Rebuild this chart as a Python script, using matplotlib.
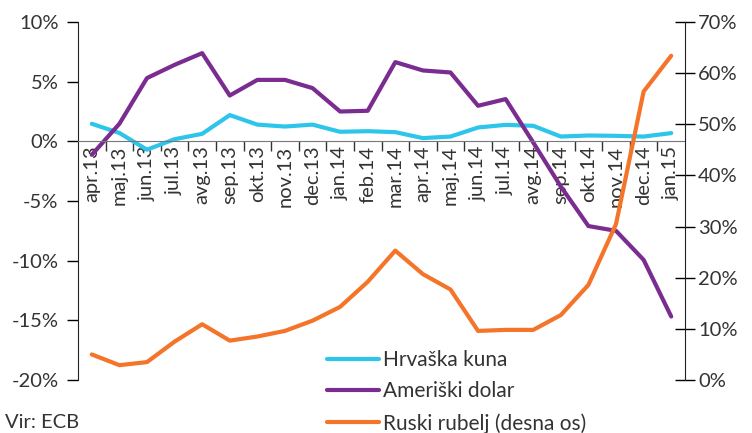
from matplotlib import pyplot as plt
import numpy as np

plt.rcParams['font.family'] = ['Lato', 'DejaVu Sans']

months = ["apr.13", "maj.13", "jun.13", "jul.13", "avg.13", "sep.13", "okt.13",
          "nov.13", "dec.13", "jan.14", "feb.14", "mar.14", "apr.14", "maj.14",
          "jun.14", "jul.14", "avg.14", "sep.14", "okt.14", "nov.14", "dec.14",
          "jan.15"]
kuna = [1.47, 0.7, -0.7, 0.18, 0.63, 2.2, 1.4, 1.24, 1.4, 0.8, 0.85, 0.77,
        0.27, 0.4, 1.16, 1.38, 1.3, 0.4, 0.49, 0.46, 0.4, 0.69]
dolar = [-1.13, 1.47, 5.3, 6.41, 7.39, 3.84, 5.15, 5.15, 4.46, 2.5, 2.56, 6.64,
         5.94, 5.77, 2.98, 3.54, -0.1, -3.79, -7.1, -7.5, -9.93, -14.68]
rubelj = [5.0, 2.9, 3.5, 7.5, 10.9, 7.7, 8.5, 9.6, 11.6, 14.3, 19.2, 25.3,
          20.7, 17.7, 9.6, 9.8, 9.8, 12.7, 18.6, 30.5, 56.4, 63.4]

c_kuna = "#2EC5EA"
c_dolar = "#7A2C90"
c_rub = "#F4742A"
txt = "#333333"
fs = 14.5

fig = plt.figure(figsize=(7.52, 4.33), dpi=100)
ax = fig.add_axes([78 / 752, 1 - 380 / 433, (685 - 78) / 752, (380 - 22) / 433])
ax2 = ax.twinx()

x = np.arange(len(months))
l1, = ax.plot(x, kuna, color=c_kuna, lw=3, solid_capstyle='round', label="Hrvaška kuna")
l2, = ax.plot(x, dolar, color=c_dolar, lw=3, solid_capstyle='round', label="Ameriški dolar")
l3, = ax2.plot(x, rubelj, color=c_rub, lw=3, solid_capstyle='round', label="Ruski rubelj (desna os)")

ax.set_xlim(-0.5, len(months) - 0.5)
ax.set_ylim(-20, 10)
ax2.set_ylim(0, 70)

ax.set_yticks(np.arange(-20, 11, 5))
ax.set_yticklabels([f"{v}%" for v in range(-20, 11, 5)])
ax2.set_yticks(np.arange(0, 71, 10))
ax2.set_yticklabels([f"{v}%" for v in range(0, 71, 10)])

# x axis sits on the zero line
ax.spines['bottom'].set_position(('data', 0))
ax.spines['bottom'].set_color("#777777")
ax.set_xticks(x[:-1] + 0.5)
ax.set_xticklabels([])
ax.set_xticks(x, minor=True)
ax.set_xticklabels(months, minor=True, rotation=90, va='top', ha='center')
ax.tick_params(axis='x', which='major', length=7, width=1, color="#333333")
ax.tick_params(axis='x', which='minor', length=0, pad=3, labelsize=fs, labelcolor=txt)

for a in (ax, ax2):
    a.spines['top'].set_visible(False)
    a.patch.set_visible(False)
ax.spines['right'].set_visible(False)
ax2.spines['left'].set_visible(False)
ax2.spines['bottom'].set_visible(False)
ax.spines['left'].set_color("#222222")
ax2.spines['right'].set_color("#222222")

ax.tick_params(axis='y', length=8, width=1, labelsize=fs, labelcolor=txt, pad=6)
ax2.tick_params(axis='y', direction='inout', length=15, width=1, labelsize=fs,
                labelcolor=txt, pad=2)

lfs = 15
leg = fig.legend([l1, l2, l3], [l1.get_label(), l2.get_label(), l3.get_label()],
                 loc='upper left', bbox_to_anchor=(327 / 752, 1 - 350 / 433),
                 frameon=False, fontsize=lfs, handlelength=2.5, handletextpad=0.2,
                 labelspacing=0.55, borderpad=0, borderaxespad=0)
for t in leg.get_texts():
    t.set_color(txt)

fig.text(5 / 752, 1 - 422 / 433, "Vir: ECB", fontsize=fs, color=txt, va='center')

fig.savefig("out.png", dpi=100)
